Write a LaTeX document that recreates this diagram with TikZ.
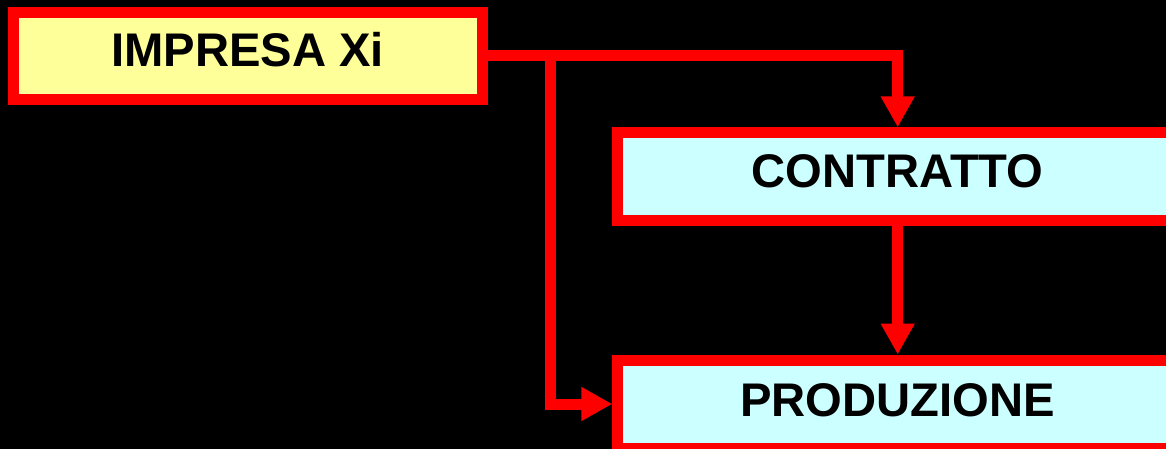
\documentclass[tikz,border=0pt]{standalone}
\usepackage{fontspec}
\setmainfont{Liberation Sans}
\usetikzlibrary{arrows.meta}
\definecolor{boxred}{HTML}{FF0000}
\definecolor{boxyellow}{HTML}{FFFF99}
\definecolor{boxcyan}{HTML}{CCFFFF}
\tikzset{
  box/.style={draw=boxred, line width=11pt, inner sep=0pt, text height=33.3pt,
    font=\fontsize{47.2}{50}\selectfont\bfseries, text=black},
  conn/.style={draw=boxred, line width=11pt, line join=miter,
    -{Triangle[width=32pt,length=31pt]}}
}
\begin{document}
\begin{tikzpicture}[x=1pt,y=-1pt]
\fill[black] (0,0) rectangle (1166,449);
\useasboundingbox (0,0) rectangle (1166,449);
\clip (0,0) rectangle (1166,449);
\node[box, fill=boxyellow, minimum width=468.7pt, minimum height=87.3pt, text depth=11.9pt] (imp) at (247.65,56) {IMPRESA Xi};
\node[box, fill=boxcyan, minimum width=559.8pt, minimum height=88pt, text depth=11.9pt] (con) at (897.7,176.8) {CONTRATTO};
\node[box, fill=boxcyan, minimum width=559.8pt, minimum height=88pt, text depth=7.9pt] (pro) at (897.7,404) {PRODUZIONE};
\coordinate (br) at (550,56);
\draw[conn] (imp.east) -| (con.north);
\draw[conn] (br) |- (pro.west);
\draw[conn] (con.south) -- (pro.north);
\end{tikzpicture}
\end{document}
